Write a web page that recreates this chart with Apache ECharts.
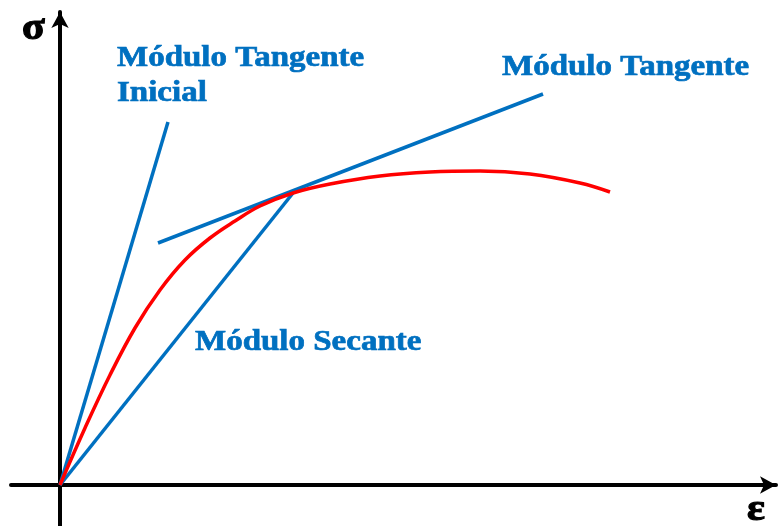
<!DOCTYPE html>
<html>
<head>
<meta charset="utf-8">
<script src="https://cdn.jsdelivr.net/npm/echarts@6/dist/echarts.min.js"></script>
<style>
html,body{margin:0;padding:0;background:#fff;}
#chart{width:778px;height:526px;}
</style>
</head>
<body>
<div id="chart"></div>
<script>
// Stress-strain curve (arbitrary units)
const curveStrain = [0, 25, 50, 75, 100, 125, 150, 175, 200, 233, 270, 320, 370, 420, 470, 520, 550];
const curveStress = [0, 57, 110, 157, 195, 225, 247, 264, 279, 292, 301, 309, 313, 314, 311, 302, 293];
// Initial tangent modulus line
const initTanStrain = [0, 108];
const initTanStress = [0, 363];
// Secant modulus line
const secantStrain = [0, 233];
const secantStress = [0, 292];
// Tangent modulus line
const tanStrain = [98, 483];
const tanStress = [242, 391];
// Texts
const labels = ['Módulo Tangente', 'Inicial', 'Módulo Tangente', 'Módulo Secante'];
const axisNames = ['σ', 'ε'];

const zip = (a, b) => a.map((v, i) => [v, b[i]]);
const chart = echarts.init(document.getElementById('chart'));
const blue = '#0070C0';
const labelFont = 'bold 30px "Liberation Serif", "DejaVu Serif", serif';
const symFont = 'bold 38px "Liberation Serif", "DejaVu Serif", serif';
const lblStyle = (t) => ({text: t, font: labelFont, fill: blue, stroke: blue, lineWidth: 0.7});
const symStyle = (t) => ({text: t, font: symFont, fill: '#000', stroke: '#000', lineWidth: 1.2});

chart.setOption({
  animation: false,
  backgroundColor: '#fff',
  grid: {left: 11, right: 2, top: 12, bottom: 0, containLabel: false},
  xAxis: {
    type: 'value', min: -49, max: 716,
    axisLine: {show: true, onZero: true, lineStyle: {color: '#000', width: 4}, symbol: ['none', 'arrow'], symbolSize: [13, 16]},
    axisTick: {show: false}, axisLabel: {show: false}, splitLine: {show: false}
  },
  yAxis: {
    type: 'value', min: -41, max: 473,
    axisLine: {show: true, onZero: true, lineStyle: {color: '#000', width: 4}, symbol: ['none', 'arrow'], symbolSize: [13, 16]},
    axisTick: {show: false}, axisLabel: {show: false}, splitLine: {show: false}
  },
  series: [
    {type: 'line', data: zip(initTanStrain, initTanStress), showSymbol: false, lineStyle: {color: blue, width: 3.5}},
    {type: 'line', data: zip(secantStrain, secantStress), showSymbol: false, lineStyle: {color: blue, width: 3.5}},
    {type: 'line', data: zip(tanStrain, tanStress), showSymbol: false, lineStyle: {color: blue, width: 3.5}},
    {type: 'line', data: zip(curveStrain, curveStress), smooth: 0.4, showSymbol: false, lineStyle: {color: '#FF0000', width: 3.5}}
  ],
  graphic: [
    {type: 'text', x: 117, y: 43, scaleX: 1.1, style: lblStyle(labels[0])},
    {type: 'text', x: 117, y: 78, scaleX: 1.1, style: lblStyle(labels[1])},
    {type: 'text', x: 502, y: 52, scaleX: 1.1, style: lblStyle(labels[2])},
    {type: 'text', x: 195, y: 327, scaleX: 1.1, style: lblStyle(labels[3])},
    {type: 'text', x: 22, y: 10, scaleX: 1.1, style: symStyle(axisNames[0])},
    {type: 'text', x: 747, y: 491, scaleX: 1.1, style: symStyle(axisNames[1])}
  ]
});
</script>
</body>
</html>
